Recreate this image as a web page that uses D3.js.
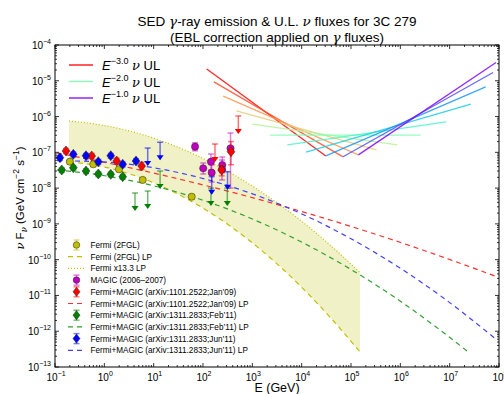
<!DOCTYPE html>
<html>
<head>
<meta charset="utf-8">
<script src="https://cdn.jsdelivr.net/npm/d3@7"></script>
<style>
  body { margin: 0; background: #fff; }
  svg { font-family: "Liberation Sans", Arial, sans-serif; }
</style>
</head>
<body>
<svg id="drawing_region"></svg>
<script>
// ---- data (E in GeV, nuFnu in GeV cm^-2 s^-1) ----
const xTickExp = [-1, 0, 1, 2, 3, 4, 5, 6, 7, 8];
const yTickExp = [-13, -12, -11, -10, -9, -8, -7, -6, -5, -4];

// neutrino upper limits, one segment per spectral index
const nuIndex = [3.0, 2.8, 2.6, 2.4, 2.2, 2.0, 1.8, 1.6, 1.4, 1.2, 1.0];
const nuEmin = [119, 166, 257, 479, 1000, 2290, 5130, 1.23e4, 3.09e4, 6.76e4, 1.41e5];
const nuEmax = [3.09e4, 6.76e4, 1.41e5, 3.31e5, 8.71e5, 2.57e6, 8.51e6, 2.69e7, 5.37e7, 7.59e7, 8.71e7];
const nuFmin = [2.14e-5, 9.33e-6, 3.72e-6, 1.45e-6, 6.17e-7, 3.02e-7, 1.62e-7, 1.02e-7, 7.94e-8, 7.41e-8, 8.51e-8];
const nuFmax = [7.94e-8, 7.59e-8, 8.51e-8, 1.17e-7, 1.62e-7, 3.02e-7, 7.08e-7, 2.24e-6, 6.76e-6, 1.70e-5, 3.24e-5];

// Fermi 2FGL points
const fglE = [0.2, 0.597, 1.98, 6.0, 59];
const fglF = [5.47e-8, 4.63e-8, 3.36e-8, 1.69e-8, 5.75e-9];
// Fermi 2FGL log-parabola (lower edge) and x13.3 curve (upper edge)
const fglLpE = [0.192, 0.817, 8.43, 86.9, 897, 9270, 3.76e4, 1.52e5];
const fglLpF = [5.47e-8, 4.12e-8, 1.55e-8, 3.10e-9, 3.33e-10, 1.88e-11, 2.48e-12, 2.63e-13];
const fglUpF = [7.52e-7, 5.89e-7, 2.69e-7, 7.41e-8, 1.25e-8, 1.28e-9, 2.57e-10, 4.35e-11];

// MAGIC 2006-2007
const magicE = [69, 101, 145, 150, 246, 243, 361];
const magicF = [1.44e-7, 3.58e-8, 5.47e-8, 2.7e-8, 4.43e-8, 3.36e-8, 1.3e-7];
const magicLo = [1.1e-7, 2.48e-8, 3.2e-8, 1.48e-8, 2.7e-8, 1.69e-8, 1.0e-8];
const magicHi = [1.85e-7, 5.04e-8, 9.0e-8, 4.43e-8, 7.4e-8, 6.1e-8, 3.47e-7];

// Fermi+MAGIC Jan'09
const janE = [0.167, 0.555, 1.78, 5.72, 239, 370];
const janF = [1.09e-7, 7.9e-8, 5.73e-8, 4.15e-8, 3.2e-8, 1.04e-7];
const janLo = [9.2e-8, 6.7e-8, 4.7e-8, 3.3e-8, 2.2e-8, 4.5e-8];
const janHi = [1.28e-7, 9.3e-8, 6.9e-8, 5.2e-8, 4.3e-8, 2.0e-7];
const janUlE = [175, 520];
const janUlF = [1.71e-7, 1.04e-6];
const janLpE = [0.11, 0.817, 8.43, 86.9, 897, 9270, 9.55e4, 9.86e5, 1.02e7, 9.12e7];
const janLpF = [9.53e-8, 5.58e-8, 2.77e-8, 1.29e-8, 5.65e-9, 2.28e-9, 8.67e-10, 3.06e-10, 1.0e-10, 3.32e-11];

// Fermi+MAGIC Feb'11
const febE = [0.137, 0.235, 0.425, 0.755, 1.35, 2.36];
const febF = [3.21e-8, 3.72e-8, 3.01e-8, 2.48e-8, 2.43e-8, 2.08e-8];
const febUlE = [4.19, 7.57, 13.5, 145, 311];
const febUlF = [7.31e-9, 8.3e-9, 3.01e-8, 1.0e-8, 1.0e-8];
const febLpE = [0.11, 0.817, 8.43, 86.9, 897, 9270, 9.55e4, 9.86e5, 6.38e6, 2.25e7];
const febLpF = [3.21e-8, 2.33e-8, 1.23e-8, 4.9e-9, 1.46e-9, 3.27e-10, 5.52e-11, 7.0e-12, 1.08e-12, 2.8e-13];

// Fermi+MAGIC Jun'11
const junE = [0.126, 0.235, 0.425, 0.755, 1.35, 2.36, 4.39];
const junF = [7.08e-8, 8.81e-8, 8.05e-8, 5.47e-8, 8.05e-8, 4.63e-8, 5.73e-8];
const junUlE = [7.57, 13.5, 150, 314];
const junUlF = [1.32e-7, 1.91e-7, 2.08e-8, 2.88e-8];
const junLpE = [0.11, 0.817, 8.43, 86.9, 897, 9270, 9.55e4, 9.86e5, 6.38e6, 9.12e7];
const junLpF = [5.82e-8, 5.47e-8, 3.85e-8, 1.95e-8, 7.31e-9, 2.0e-9, 3.98e-10, 5.82e-11, 9.98e-12, 5.69e-13];

const legendLabels = [
    'Fermi (2FGL)', 'Fermi (2FGL) LP', 'Fermi x13.3 LP', 'MAGIC (2006\u20132007)',
    'Fermi+MAGIC (arXiv:1101.2522;Jan\u201909)', 'Fermi+MAGIC (arXiv:1101.2522;Jan\u201909) LP',
    'Fermi+MAGIC (arXiv:1311.2833;Feb\u201911)', 'Fermi+MAGIC (arXiv:1311.2833;Feb\u201911) LP',
    'Fermi+MAGIC (arXiv:1311.2833;Jun\u201911)', 'Fermi+MAGIC (arXiv:1311.2833;Jun\u201911) LP'
];
const nuLegend = ['\u22123.0', '\u22122.0', '\u22121.0'];

// ---- chart ----
const W = 504, H = 394;
const M = { top: 45, right: 5, bottom: 27, left: 55 };

const svg = d3.select('#drawing_region').attr('width', W).attr('height', H);

const x = d3.scaleLog().domain([0.1, 1e8]).range([M.left, W - M.right]);
const y = d3.scaleLog().domain([1e-13, 1e-4]).range([H - M.bottom, M.top]);

function rainbow(t) {
    // matplotlib "rainbow" colormap
    const r = Math.min(1, Math.abs(2 * t - 0.5));
    const g = Math.sin(t * Math.PI);
    const b = Math.cos(t * Math.PI / 2);
    return d3.rgb(r * 255, g * 255, b * 255).toString();
}
const nuColor = g => rainbow((g - 1) / 2);

const cY = '#bfbf00', cM = '#bf00bf', cR = '#ff0000', cG = '#008000', cB = '#0000ff';

const plot = svg.append('g');
svg.append('clipPath').attr('id', 'clip').append('rect')
    .attr('x', M.left).attr('y', M.top)
    .attr('width', W - M.left - M.right).attr('height', H - M.top - M.bottom);
plot.attr('clip-path', 'url(#clip)');

const line = d3.line().x(d => x(d[0])).y(d => y(d[1])).curve(d3.curveMonotoneX);

// Fermi band
const band = d3.area().x(d => x(d[0])).y0(d => y(d[1])).y1(d => y(d[2])).curve(d3.curveMonotoneX);
const bandData = fglLpE.map((e, i) => [e, fglLpF[i], fglUpF[i]]);
plot.append('path').datum(bandData).attr('d', band)
    .attr('fill', cY).attr('fill-opacity', 0.22);
plot.append('path').datum(fglLpE.map((e, i) => [e, fglUpF[i]])).attr('d', line)
    .attr('fill', 'none').attr('stroke', cY).attr('stroke-width', 1.2).attr('stroke-dasharray', '1,2');
plot.append('path').datum(fglLpE.map((e, i) => [e, fglLpF[i]])).attr('d', line)
    .attr('fill', 'none').attr('stroke', cY).attr('stroke-width', 1.2).attr('stroke-dasharray', '5,4');

// LP dashed curves
[[janLpE, janLpF, '#ff3030'], [febLpE, febLpF, '#33a033'], [junLpE, junLpF, '#4040ff']].forEach(([es, fs, c]) => {
    plot.append('path').datum(es.map((e, i) => [e, fs[i]])).attr('d', line)
        .attr('fill', 'none').attr('stroke', c).attr('stroke-width', 1.2).attr('stroke-dasharray', '5,4');
});

// neutrino UL segments
plot.selectAll('.nu').data(nuIndex).enter().append('line')
    .attr('x1', (g, i) => x(nuEmin[i])).attr('y1', (g, i) => y(nuFmin[i]))
    .attr('x2', (g, i) => x(nuEmax[i])).attr('y2', (g, i) => y(nuFmax[i]))
    .attr('stroke', g => nuColor(g)).attr('stroke-width', 1.3).attr('stroke-opacity', 0.85);

// error bars + markers
function diamond(g, cx, cy, c, s) {
    g.append('path').attr('d', `M${cx},${cy - s}L${cx + s * 0.78},${cy}L${cx},${cy + s}L${cx - s * 0.78},${cy}Z`)
        .attr('fill', c).attr('stroke', '#222').attr('stroke-width', 0.5);
}
function circle(g, cx, cy, c, r) {
    g.append('circle').attr('cx', cx).attr('cy', cy).attr('r', r)
        .attr('fill', c).attr('stroke', '#222').attr('stroke-width', 0.5);
}
function errBar(g, cx, y1, y2, c) {
    g.append('line').attr('x1', cx).attr('x2', cx).attr('y1', y1).attr('y2', y2)
        .attr('stroke', c).attr('stroke-opacity', 0.5).attr('stroke-width', 1.5);
    [y1, y2].forEach(v => g.append('line').attr('x1', cx - 3).attr('x2', cx + 3).attr('y1', v).attr('y2', v)
        .attr('stroke', c).attr('stroke-opacity', 0.5).attr('stroke-width', 1.5));
}
function upperLimit(g, cx, cy, c) {
    const tip = cy + 17;
    g.append('line').attr('x1', cx).attr('x2', cx).attr('y1', cy).attr('y2', tip)
        .attr('stroke', c).attr('stroke-opacity', 0.55).attr('stroke-width', 1.5);
    g.append('line').attr('x1', cx - 3).attr('x2', cx + 3).attr('y1', cy).attr('y2', cy)
        .attr('stroke', c).attr('stroke-opacity', 0.55).attr('stroke-width', 1.5);
    g.append('path').attr('d', `M${cx - 3.5},${tip - 4}L${cx + 3.5},${tip - 4}L${cx},${tip + 1}Z`)
        .attr('fill', c);
}

const pts = plot.append('g');
function pointSeries(es, fs, lo, hi, c, shape) {
    es.forEach((e, i) => {
        const cx = x(e), cy = y(fs[i]);
        const l = lo ? lo[i] : fs[i] * 0.85, h = hi ? hi[i] : fs[i] * 1.15;
        errBar(pts, cx, y(h), y(l), c);
        if (shape === 'd') diamond(pts, cx, cy, c, 5);
        else circle(pts, cx, cy, c, 3.6);
    });
}
pointSeries(fglE, fglF, null, null, cY, 'o');
pointSeries(magicE, magicF, magicLo, magicHi, cM, 'o');
pointSeries(janE, janF, janLo, janHi, cR, 'd');
janUlE.forEach((e, i) => upperLimit(pts, x(e), y(janUlF[i]), cR));
pointSeries(febE, febF, null, null, cG, 'd');
febUlE.forEach((e, i) => upperLimit(pts, x(e), y(febUlF[i]), cG));
pointSeries(junE, junF, null, null, cB, 'd');
junUlE.forEach((e, i) => upperLimit(pts, x(e), y(junUlF[i]), cB));

// axes frame and ticks
const ax = svg.append('g').attr('stroke', '#000');
ax.append('rect').attr('x', M.left).attr('y', M.top)
    .attr('width', W - M.left - M.right).attr('height', H - M.top - M.bottom)
    .attr('fill', 'none').attr('stroke-width', 1);

const yB = H - M.bottom, yT = M.top, xL = M.left, xR = W - M.right;
xTickExp.forEach(k => {
    const px = x(Math.pow(10, k));
    ax.append('line').attr('x1', px).attr('x2', px).attr('y1', yB).attr('y2', yB - 4);
    ax.append('line').attr('x1', px).attr('x2', px).attr('y1', yT).attr('y2', yT + 4);
    if (k < 8) for (let m = 2; m < 10; m++) {
        const pm = x(m * Math.pow(10, k));
        ax.append('line').attr('x1', pm).attr('x2', pm).attr('y1', yB).attr('y2', yB - 2);
        ax.append('line').attr('x1', pm).attr('x2', pm).attr('y1', yT).attr('y2', yT + 2);
    }
});
yTickExp.forEach(k => {
    const py = y(Math.pow(10, k));
    ax.append('line').attr('x1', xL).attr('x2', xL + 4).attr('y1', py).attr('y2', py);
    ax.append('line').attr('x1', xR).attr('x2', xR - 4).attr('y1', py).attr('y2', py);
    if (k < -4) for (let m = 2; m < 10; m++) {
        const pm = y(m * Math.pow(10, k));
        ax.append('line').attr('x1', xL).attr('x2', xL + 2).attr('y1', pm).attr('y2', pm);
        ax.append('line').attr('x1', xR).attr('x2', xR - 2).attr('y1', pm).attr('y2', pm);
    }
});
ax.selectAll('line').attr('stroke-width', 0.8);

function powLabel(g, px, py, exp, anchor) {
    const t = g.append('text').attr('x', px).attr('y', py).attr('text-anchor', anchor)
        .attr('font-size', 10).attr('fill', '#000');
    t.append('tspan').text('10');
    t.append('tspan').attr('dy', -5).attr('font-size', 7).text(exp < 0 ? '\u2212' + (-exp) : String(exp));
}
const tl = svg.append('g');
xTickExp.forEach(k => powLabel(tl, x(Math.pow(10, k)) + 1, yB + 14, k, 'middle'));
yTickExp.forEach(k => powLabel(tl, xL - 4, y(Math.pow(10, k)) + 4, k, 'end'));

// axis titles
svg.append('text').attr('x', 277).attr('y', 392).attr('text-anchor', 'middle')
    .attr('font-size', 12.5).text('E (GeV)');
const yl = svg.append('text').attr('transform', 'translate(24,198) rotate(-90)')
    .attr('text-anchor', 'middle').attr('font-size', 11.5);
yl.append('tspan').attr('font-family', 'DejaVu Serif').attr('font-style', 'italic').text('\u03bd');
yl.append('tspan').text(' F');
yl.append('tspan').attr('dy', 3).attr('font-size', 8.5).attr('font-family', 'DejaVu Serif').attr('font-style', 'italic').text('\u03bd');
yl.append('tspan').attr('dy', -3).text(' (GeV cm');
yl.append('tspan').attr('dy', -5).attr('font-size', 8.5).text('\u22122');
yl.append('tspan').attr('dy', 5).text(' s');
yl.append('tspan').attr('dy', -5).attr('font-size', 8.5).text('\u22121');
yl.append('tspan').attr('dy', 5).text(')');

// title
const t1 = svg.append('text').attr('x', 277).attr('y', 26).attr('text-anchor', 'middle').attr('font-size', 13.5);
t1.append('tspan').text('SED ');
t1.append('tspan').attr('font-family', 'DejaVu Serif').attr('font-style', 'italic').text('\u03b3');
t1.append('tspan').text('-ray emission & U.L. ');
t1.append('tspan').attr('font-family', 'DejaVu Serif').attr('font-style', 'italic').text('\u03bd');
t1.append('tspan').text(' fluxes for 3C 279');
const t2 = svg.append('text').attr('x', 277).attr('y', 42).attr('text-anchor', 'middle').attr('font-size', 13.5);
t2.append('tspan').text('(EBL correction applied on ');
t2.append('tspan').attr('font-family', 'DejaVu Serif').attr('font-style', 'italic').text('\u03b3');
t2.append('tspan').text(' fluxes)');

// neutrino legend
const nuLegIdx = [3.0, 2.0, 1.0];
const lg1 = svg.append('g');
nuLegIdx.forEach((g, i) => {
    const ly = 65 + i * 16.5;
    lg1.append('line').attr('x1', 69).attr('x2', 93).attr('y1', ly).attr('y2', ly)
        .attr('stroke', nuColor(g)).attr('stroke-width', 1.3);
    const t = lg1.append('text').attr('x', 102).attr('y', ly + 5).attr('font-size', 13);
    t.append('tspan').attr('font-style', 'italic').text('E');
    t.append('tspan').attr('dy', -6).attr('font-size', 9).text(nuLegend[i]);
    t.append('tspan').attr('dy', 6).text(' ');
    t.append('tspan').attr('font-family', 'DejaVu Serif').attr('font-style', 'italic').text('\u03bd');
    t.append('tspan').text(' UL');
});

// data legend
const lg2 = svg.append('g');
const legStyle = [
    { kind: 'o', c: cY }, { kind: 'dash', c: cY }, { kind: 'dot', c: cY }, { kind: 'o', c: cM },
    { kind: 'd', c: cR }, { kind: 'dash', c: '#ff3030' }, { kind: 'd', c: cG }, { kind: 'dash', c: '#33a033' },
    { kind: 'd', c: cB }, { kind: 'dash', c: '#4040ff' }
];
legendLabels.forEach((lab, i) => {
    const ly = 245 + i * 11.7, lx = 76.5;
    const s = legStyle[i];
    if (s.kind === 'o' || s.kind === 'd') {
        errBar(lg2, lx, ly - 5, ly + 5, s.c);
        if (s.kind === 'o') circle(lg2, lx, ly, s.c, 3.3);
        else diamond(lg2, lx, ly, s.c, 4.5);
    } else {
        lg2.append('line').attr('x1', 68).attr('x2', 85).attr('y1', ly).attr('y2', ly)
            .attr('stroke', s.c).attr('stroke-width', 1.2)
            .attr('stroke-dasharray', s.kind === 'dash' ? '5,4' : '1,2');
    }
    lg2.append('text').attr('x', 90.5).attr('y', ly + 3).attr('font-size', 8.2).text(lab);
});
</script>
</body>
</html>
